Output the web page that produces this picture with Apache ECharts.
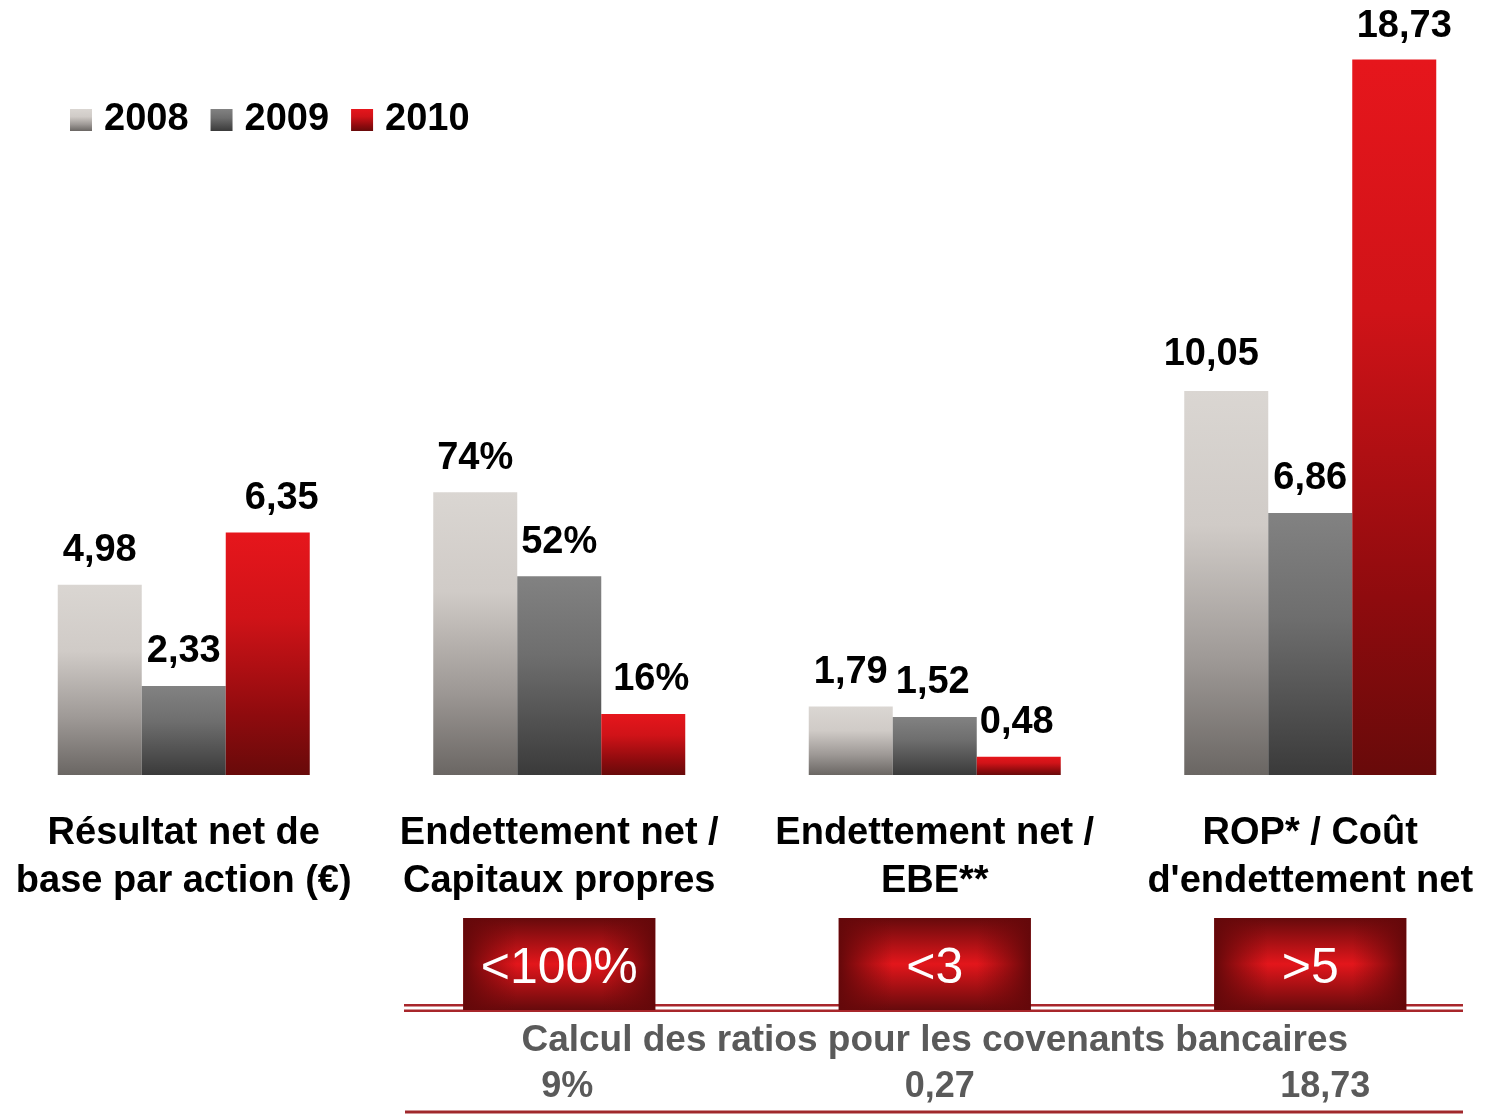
<!DOCTYPE html>
<html>
<head>
<meta charset="utf-8">
<style>
html,body{margin:0;padding:0;background:#fff;overflow:hidden;width:1485px;height:1114px;}
#chart{position:absolute;left:-4px;top:0;width:1502px;height:1114px;}
</style>
<script src="https://cdn.jsdelivr.net/npm/echarts@6/dist/echarts.min.js"></script>
</head>
<body>
<div id="chart"></div>
<script>
// ---- data ----
var categories = [
  'Résultat net de\nbase par action (€)',
  'Endettement net /\nCapitaux propres',
  'Endettement net /\nEBE**',
  'ROP* / Coût\nd\'endettement net'
];
var seriesNames = ['2008', '2009', '2010'];
// bar heights (percent group drawn as pct/10 on the common scale)
var values2008 = [4.98, 7.4, 1.79, 10.05];
var values2009 = [2.33, 5.2, 1.52, 6.86];
var values2010 = [6.35, 1.6, 0.48, 18.73];
var labels2008 = ['4,98', '74%', '1,79', '10,05'];
var labels2009 = ['2,33', '52%', '1,52', '6,86'];
var labels2010 = ['6,35', '16%', '0,48', '18,73'];
var covenantCategoryIndex = [1, 2, 3];
var covenantThresholds = ['<100%', '<3', '>5'];
var covenantValues = ['9%', '0,27', '18,73'];
var covenantTitle = 'Calcul des ratios pour les covenants bancaires';

// ---- style config (label nudges as in the original slide) ----
var labelShift2008 = [[0, 0], [0, 0], [0, 0], [-15, -3]];
var labelShift2009 = [[0, 0], [0, 0], [-2, 0], [0, 0]];
var labelShift2010 = [[14, 0], [8, 0], [-2, 0], [10, 1]];

var FONT = '"Liberation Sans", Arial, Helvetica, sans-serif';
var OFF = 4; // container is shifted 4px left of the window

function vGrad(stops) {
  return {type: 'linear', x: 0, y: 0, x2: 0, y2: 1, global: false,
    colorStops: stops.map(function (s) { return {offset: s[0], color: s[1]}; })};
}
var grad2008 = vGrad([[0, '#dad6d2'], [0.35, '#d0cbc7'], [0.7, '#9e9996'], [1, '#6a6663']]);
var grad2009 = vGrad([[0, '#828282'], [0.4, '#6e6e6e'], [1, '#3a3a3a']]);
var grad2010 = vGrad([[0, '#e6161c'], [0.35, '#d01318'], [0.75, '#8f0b0e'], [1, '#680a0a']]);

function makeSeries(name, vals, labs, shifts, color) {
  return {
    name: name,
    type: 'bar',
    data: vals.map(function (v, i) { return {value: v, label: {offset: shifts[i]}}; }),
    barWidth: 84,
    barGap: '0%',
    itemStyle: {color: color},
    label: {
      show: true,
      position: 'top',
      distance: 15,
      color: '#000',
      fontFamily: FONT,
      fontWeight: 'bold',
      fontSize: 38,
      formatter: function (p) { return labs[p.dataIndex]; }
    }
  };
}

var chart = echarts.init(document.getElementById('chart'), null, {renderer: 'canvas'});
var option = {
  animation: false,
  backgroundColor: '#ffffff',
  legend: {
    left: 65 + OFF,
    top: 96,
    icon: 'rect',
    itemWidth: 22,
    itemHeight: 22,
    itemGap: 22,
    data: seriesNames,
    textStyle: {fontFamily: FONT, fontWeight: 'bold', fontSize: 38, color: '#000', padding: [0, 0, 0, 7]}
  },
  grid: {left: 0, top: 11, right: 0, height: 764, containLabel: false},
  xAxis: {
    type: 'category',
    data: categories,
    axisLine: {show: false},
    axisTick: {show: false},
    axisLabel: {
      interval: 0,
      margin: 35,
      color: '#000',
      fontFamily: FONT,
      fontWeight: 'bold',
      fontSize: 38,
      lineHeight: 48
    }
  },
  yAxis: {type: 'value', min: 0, max: 20, show: false, splitLine: {show: false}},
  series: [
    makeSeries(seriesNames[0], values2008, labels2008, labelShift2008, grad2008),
    makeSeries(seriesNames[1], values2009, labels2009, labelShift2009, grad2009),
    makeSeries(seriesNames[2], values2010, labels2010, labelShift2010, grad2010)
  ]
};
chart.setOption(option);

// ---- covenant annotations below the chart ----
var lineColor = '#a8262b';
var graphics = [];
graphics.push({type: 'rect', shape: {x: 404 + OFF, y: 1004, width: 1059, height: 2.5}, style: {fill: lineColor}, z: 1});
graphics.push({type: 'rect', shape: {x: 404 + OFF, y: 1009.5, width: 1059, height: 2.5}, style: {fill: lineColor}, z: 1});
graphics.push({type: 'rect', shape: {x: 405 + OFF, y: 1110.5, width: 1058, height: 3}, style: {fill: '#a0282c'}, z: 1});

var centers = covenantCategoryIndex.map(function (i) {
  return chart.convertToPixel({xAxisIndex: 0}, categories[i]);
});
var valueOffsets = [8, 5, 15];
centers.forEach(function (cx, k) {
  var bx = cx - 96, by = 918, bw = 192, bh = 92;
  graphics.push({type: 'rect', shape: {x: bx, y: by, width: bw, height: bh}, z: 5,
    style: {fill: {type: 'linear', x: 0, y: 0, x2: 0, y2: 1, colorStops: [
      {offset: 0, color: '#660a0c'}, {offset: 0.5, color: '#e3161b'}, {offset: 1, color: '#660a0c'}]}}});
  graphics.push({type: 'rect', shape: {x: bx, y: by, width: bw, height: bh}, z: 6,
    style: {fill: {type: 'linear', x: 0, y: 0, x2: 1, y2: 0, colorStops: [
      {offset: 0, color: 'rgba(100,8,10,1)'}, {offset: 0.28, color: 'rgba(110,8,10,0)'},
      {offset: 0.72, color: 'rgba(110,8,10,0)'}, {offset: 1, color: 'rgba(100,8,10,1)'}]}}});
  graphics.push({type: 'text', z: 7, x: cx, y: by + bh / 2 + 5,
    style: {text: covenantThresholds[k], fill: '#fff', fontFamily: '"Liberation Sans Narrow", "Arial Narrow", ' + FONT,
      fontSize: 50, align: 'center', verticalAlign: 'middle'}});
  graphics.push({type: 'text', z: 7, x: cx + valueOffsets[k], y: 1087,
    style: {text: covenantValues[k], fill: '#5a5a5a', fontFamily: FONT, fontWeight: 'bold',
      fontSize: 36, align: 'center', verticalAlign: 'middle'}});
});
graphics.push({type: 'text', z: 7, x: centers[1], y: 1041,
  style: {text: covenantTitle, fill: '#5a5a5a', fontFamily: FONT, fontWeight: 'bold',
    fontSize: 37, align: 'center', verticalAlign: 'middle'}});

chart.setOption({graphic: {elements: graphics}});
</script>
</body>
</html>
